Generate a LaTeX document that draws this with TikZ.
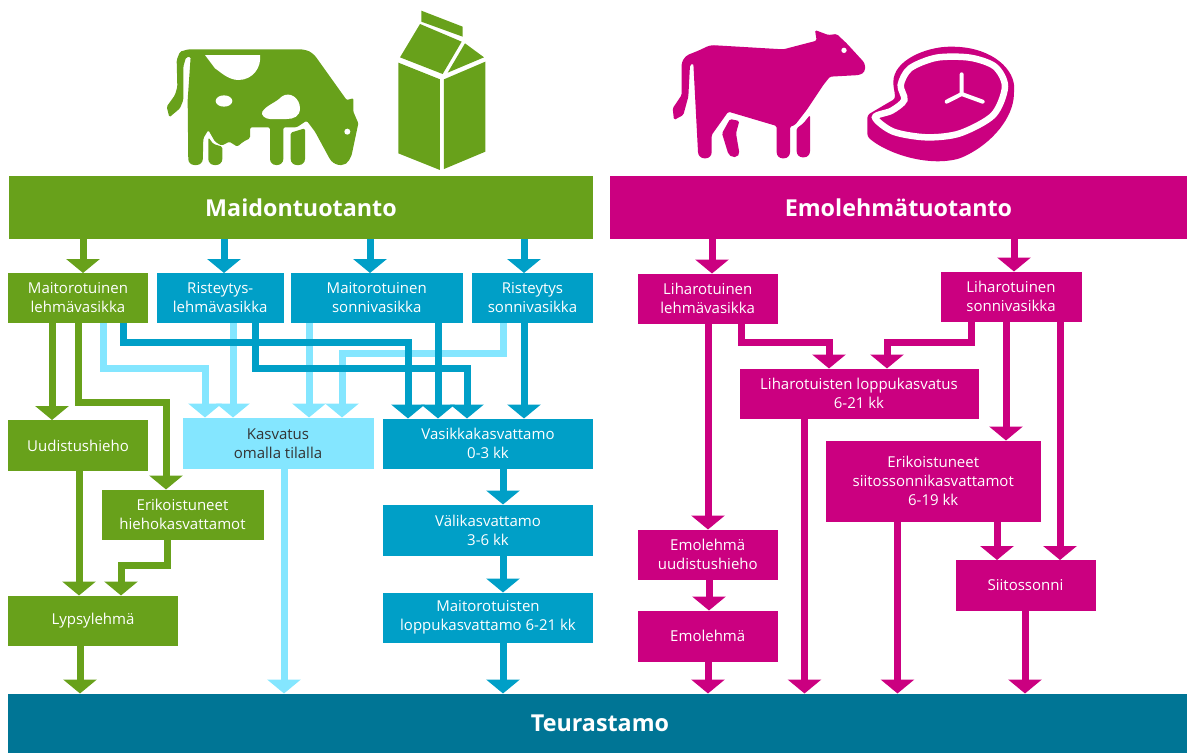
\documentclass[tikz,border=0pt]{standalone}
\usepackage{fontspec}
\setmainfont{Open Sans}
\usetikzlibrary{arrows.meta}
\definecolor{grn}{HTML}{68A11B}
\definecolor{mag}{HTML}{CB0080}
\definecolor{blu}{HTML}{009FC7}
\definecolor{lit}{HTML}{84E6FF}
\definecolor{tea}{HTML}{007595}
\tikzset{
  bxbase/.style={anchor=north west,inner sep=0pt,outer sep=0pt,align=center,text=white,font=\fontsize{15}{19}\selectfont},
  gbox/.style={bxbase,fill=grn},
  mbox/.style={bxbase,fill=mag},
  bbox/.style={bxbase,fill=blu},
  lbox/.style={bxbase,fill=lit,text=black!80},
  title/.style={font=\fontsize{23.3}{26}\selectfont\bfseries},
  flow/.style={line width=7pt,-{Triangle[width=33pt,length=14pt]}},
  gflow/.style={flow,draw=grn},
  mflow/.style={flow,draw=mag},
  bflow/.style={flow,draw=blu},
  lflow/.style={flow,draw=lit},
  icon/.style={shift={#1},xscale=0.33333,yscale=0.33333}
}
\newcommand{\bx}[7]{\node[#6,minimum width={(#4-#2)*1pt},minimum height={(#5-#3)*1pt}] (#1) at (#2,#3) {#7};}
\begin{document}
\begin{tikzpicture}[x=1pt,y=-1pt]
\useasboundingbox (0,0) rectangle (1187,753);
% boxes
\bx{maito}{9}{176}{593}{239}{gbox,title}{Maidontuotanto}
\bx{emo}{610}{176}{1187}{239}{mbox,title}{Emolehmätuotanto}
\bx{teur}{8}{693.5}{1187}{753}{bxbase,fill=tea,title}{\raisebox{-2pt}{\hspace{5pt}Teurastamo}}
\bx{mlv}{8}{273}{148}{323}{gbox}{Maitorotuinen\\lehmävasikka}
\bx{rlv}{157}{273}{283.5}{323}{bbox}{Risteytys-\\lehmävasikka}
\bx{msv}{291}{273}{462.5}{323}{bbox}{Maitorotuinen\\sonnivasikka}
\bx{rsv}{472}{273}{593}{323}{bbox}{Risteytys\\sonnivasikka}
\bx{uh}{8}{420}{148}{471}{gbox}{Uudistushieho}
\bx{kas}{182.5}{417.5}{373.5}{469}{lbox}{Kasvatus\\omalla tilalla}
\bx{vas}{383}{418.5}{593}{469}{bbox}{Vasikkakasvattamo\\0-3 kk}
\bx{eh}{101.5}{489.5}{263.5}{540}{gbox}{Erikoistuneet\\hiehokasvattamot}
\bx{lyp}{8}{595.5}{178}{646}{gbox}{Lypsylehmä}
\bx{val}{383}{504.5}{593}{555.5}{bbox}{Välikasvattamo\\3-6 kk}
\bx{mlo}{383}{592.5}{593}{643}{bbox}{Maitorotuisten\\loppukasvattamo 6-21 kk}
\bx{llv}{637.5}{273.5}{778}{323.5}{mbox}{Liharotuinen\\lehmävasikka}
\bx{lsv}{940.5}{271.5}{1081.5}{322}{mbox}{Liharotuinen\\sonnivasikka}
\bx{llo}{739.5}{368.5}{978.5}{418.5}{mbox}{Liharotuisten loppukasvatus\\6-21 kk}
\bx{esk}{826}{440.5}{1040.5}{521.5}{mbox}{Erikoistuneet\\siitossonnikasvattamot\\6-19 kk}
\bx{sii}{955.5}{560}{1095.5}{610.5}{mbox}{Siitossonni}
\bx{euh}{637.5}{529.5}{778}{580}{mbox}{Emolehmä\\uudistushieho}
\bx{ele}{637.5}{610.5}{778}{661.5}{mbox}{Emolehmä}
% light connectors
\draw[lflow] (mlv.south -| 103,0) |- (205,368) -- (kas.north -| 205,0);
\draw[lflow] (rlv.south -| 233,0) -- (kas.north -| 233,0);
\draw[lflow] (msv.south -| 309,0) -- (kas.north -| 309,0);
\draw[lflow] (rsv.south -| 503,0) |- (342,353) -- (kas.north -| 342,0);
\draw[lflow] (kas.south -| 284,0) -- (teur.north -| 284,0);
% blue connectors
\draw[bflow] (maito.south -| 224,0) -- (rlv.north -| 224,0);
\draw[bflow] (maito.south -| 370,0) -- (msv.north -| 370,0);
\draw[bflow] (maito.south -| 524,0) -- (rsv.north -| 524,0);
\draw[bflow] (mlv.south -| 123,0) |- (408,342) -- (vas.north -| 408,0);
\draw[bflow] (rlv.south -| 255,0) |- (467,368) -- (vas.north -| 467,0);
\draw[bflow] (msv.south -| 438,0) -- (vas.north -| 438,0);
\draw[bflow] (rsv.south -| 524,0) -- (vas.north -| 524,0);
\draw[bflow] (vas.south -| 503,0) -- (val.north -| 503,0);
\draw[bflow] (val.south -| 503,0) -- (mlo.north -| 503,0);
\draw[bflow] (mlo.south -| 503,0) -- (teur.north -| 503,0);
% green connectors
\draw[gflow] (maito.south -| 83,0) -- (mlv.north -| 83,0);
\draw[gflow] (mlv.south -| 52,0) -- (uh.north -| 52,0);
\draw[gflow] (mlv.south -| 78,0) |- (166,402) -- (eh.north -| 166,0);
\draw[gflow] (uh.south -| 79,0) -- (lyp.north -| 79,0);
\draw[gflow] (eh.south -| 167,0) |- (121,565) -- (lyp.north -| 121,0);
\draw[gflow] (lyp.south -| 80,0) -- (teur.north -| 80,0);
% magenta connectors
\draw[mflow] (emo.south -| 712,0) -- (llv.north -| 712,0);
\draw[mflow] (emo.south -| 1014,0) -- (lsv.north -| 1014,0);
\draw[mflow] (llv.south -| 708,0) -- (euh.north -| 708,0);
\draw[mflow] (llv.south -| 741.5,0) |- (829,342) -- (llo.north -| 829,0);
\draw[mflow] (lsv.south -| 971,0) |- (887,342) -- (llo.north -| 887,0);
\draw[mflow] (lsv.south -| 1006,0) -- (esk.north -| 1006,0);
\draw[mflow] (lsv.south -| 1060,0) -- (sii.north -| 1060,0);
\draw[mflow] (euh.south -| 709,0) -- (ele.north -| 709,0);
\draw[mflow] (ele.south -| 708,0) -- (teur.north -| 708,0);
\draw[mflow] (llo.south -| 804.5,0) -- (teur.north -| 804.5,0);
\draw[mflow] (esk.south -| 897.5,0) -- (teur.north -| 897.5,0);
\draw[mflow] (esk.south -| 997,0) -- (sii.north -| 997,0);
\draw[mflow] (sii.south -| 1025,0) -- (teur.north -| 1025,0);
% dairy cow
\begin{scope}[icon={(150,0)}]
\fill[grn,rounded corners=1.5pt] (115,148) [rounded corners=5pt] -- (465,148) -- (490,160) [rounded corners=1pt] -- (590,300) -- (610,295) -- (610,335) -- (625,370) -- (605,465) [rounded corners=5pt] -- (590,495) -- (555,495) [rounded corners=1.5pt] -- (540,478) -- (495,395) -- (470,362) -- (440,382) -- (400,382) [rounded corners=6pt] -- (400,495) -- (360,495) [rounded corners=1.5pt] -- (360,382) -- (300,382) -- (300,415) -- (280,425) -- (262,440) -- (238,425) -- (215,437) -- (195,425) -- (175,390) -- (160,415) [rounded corners=6pt] -- (158,495) -- (115,495) [rounded corners=1.5pt] -- (113,300) -- (122,170) -- (108,172) -- (100,200) -- (100,300) -- (90,325) -- (58,352) -- (50,320) -- (75,285) -- (82,260) -- (80,180) -- (90,155) -- cycle;
\fill[grn,rounded corners=1.5pt] (175,412) -- (190,432) -- (217,440) [rounded corners=6pt] -- (217,495) -- (175,495) [rounded corners=1.5pt] -- cycle;
\fill[grn,rounded corners=1.5pt] (422,398) -- (465,385) [rounded corners=6pt] -- (465,495) -- (422,495) [rounded corners=1.5pt] -- cycle;
\fill[white] (165,165) -- (330,165) .. controls (335,200) and (310,240) .. (265,240) .. controls (235,240) and (210,215) .. (195,205) -- cycle;
\fill[white] (222,303) ellipse [x radius=25,y radius=17];
\fill[white] (337,335) .. controls (350,315) and (375,310) .. (395,290) .. controls (420,272) and (450,295) .. (450,325) .. controls (450,350) and (430,357) .. (410,357) -- (360,357) .. controls (345,357) and (332,345) .. (337,335) -- cycle;
\fill[white] (592,395) circle [radius=9];
% milk carton
\fill[grn] (814,32) -- (938,80) -- (938,110) -- (814,65) -- cycle;
\fill[grn] (810,72) -- (935,125) -- (878,222) -- (750,172) -- cycle;
\fill[grn] (945,130) -- (1002,172) -- (893,218) -- cycle;
\fill[grn] (745,188) -- (870,238) -- (870,510) -- (745,460) -- cycle;
\fill[grn] (882,238) -- (1006,185) -- (1006,455) -- (882,507) -- cycle;
\end{scope}
% beef cow and steak
\begin{scope}[icon={(660,20)}]
\fill[mag,rounded corners=1.5pt] (65,130) [rounded corners=4pt] -- (75,108) -- (120,90) -- (150,75) [rounded corners=1.5pt] -- (370,88) -- (470,62) -- (465,30) -- (505,45) -- (530,42) -- (560,70) [rounded corners=3pt] -- (615,130) -- (615,155) -- (600,165) [rounded corners=1.5pt] -- (510,170) -- (490,195) -- (440,270) -- (405,315) -- (390,320) [rounded corners=6pt] -- (390,415) -- (350,415) [rounded corners=1.5pt] -- (350,318) -- (205,275) -- (155,345) [rounded corners=6pt] -- (155,415) -- (115,415) [rounded corners=1.5pt] -- (100,130) -- (90,135) -- (85,230) -- (70,285) -- (42,300) -- (38,265) -- (65,225) -- cycle;
\fill[mag,rounded corners=1.5pt] (450,285) [rounded corners=6pt] -- (450,412) -- (410,412) [rounded corners=1.5pt] -- (410,325) -- (430,310) -- cycle;
\fill[mag,rounded corners=1.5pt] (210,297) -- (238,303) -- (228,340) [rounded corners=5pt] -- (240,410) -- (208,412) [rounded corners=1.5pt] -- (186,340) -- cycle;
\fill[white] (552,91) circle [radius=8];
\fill[mag,rounded corners=3pt] (622,285) -- (690,245) .. controls (708,235) and (705,225) .. (700,195) .. controls (700,120) and (800,80) .. (880,80) .. controls (1000,85) and (1065,150) .. (1062,215) .. controls (1060,290) and (1000,370) .. (900,415) .. controls (800,440) and (680,400) .. (622,350) -- cycle;
\draw[white,line width=6.5pt] plot[smooth cycle] coordinates {(645,292) (695,272) (733,240) (722,195) (750,145) (830,113) (930,113) (1005,140) (1035,200) (1000,285) (900,340) (800,352) (700,335)};
\draw[white,line width=4pt,line cap=round] (905,163) -- (905,222) -- (860,245) (905,222) -- (968,245);
\end{scope}
\end{tikzpicture}
\end{document}
